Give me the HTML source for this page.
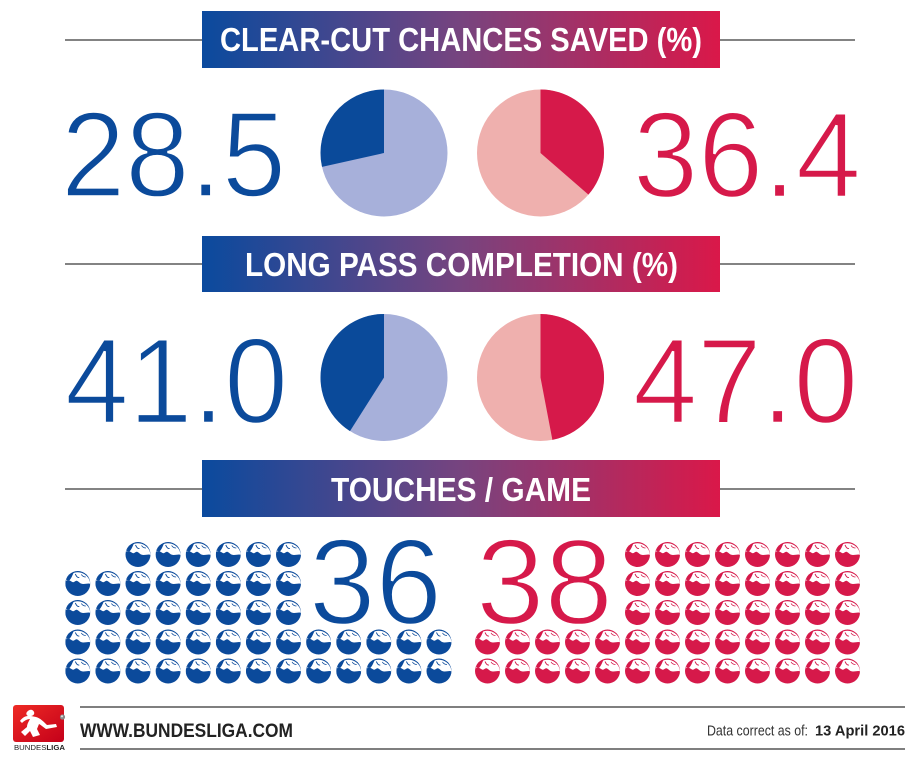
<!DOCTYPE html>
<html>
<head>
<meta charset="utf-8">
<style>
html,body{margin:0;padding:0;background:#fff;}
svg{display:block;}
</style>
</head>
<body>
<svg width="920" height="765" viewBox="0 0 920 765" xmlns="http://www.w3.org/2000/svg">
<defs>
  <linearGradient id="bg" x1="0" y1="0" x2="1" y2="0">
    <stop offset="0" stop-color="#0a4a9e"/>
    <stop offset="0.5" stop-color="#77447f"/>
    <stop offset="1" stop-color="#da1849"/>
  </linearGradient>
  <linearGradient id="lg" x1="0" y1="0" x2="1" y2="1">
    <stop offset="0" stop-color="#ee2a24"/>
    <stop offset="1" stop-color="#c4001a"/>
  </linearGradient>
  <symbol id="ball" viewBox="0 0 25 25">
    <circle cx="12.5" cy="12.5" r="12.5" fill="currentColor"/>
    <path d="M0.6,10 C3,8 5,10 7,11 C9,12 10,9 12,10 C14,11 15,13 18,13 C21,13 23,12 24.99,12.8 A12.5,12.5 0 0 0 0.6,10 Z" fill="#fff"/>
    <path d="M1.2,9 C2,5 5,2 8.5,1.5 C7,4 6.5,7 4,9.5 Z" fill="currentColor"/>
    <path d="M10,3 C11,5 12,7 14,6.5" stroke="currentColor" stroke-width="0.9" fill="none"/>
    <path d="M16,3.5 C17,5 18,6 20.5,6" stroke="currentColor" stroke-width="0.7" fill="none"/>
  </symbol>
</defs>

<g stroke="#5a5a5a" stroke-width="1.5">
  <line x1="65" y1="40" x2="855" y2="40"/>
  <line x1="65" y1="264" x2="855" y2="264"/>
  <line x1="65" y1="489" x2="855" y2="489"/>
</g>

<rect x="202" y="11" width="518" height="57" fill="url(#bg)"/>
<rect x="202" y="236" width="518" height="56" fill="url(#bg)"/>
<rect x="202" y="460" width="518" height="57" fill="url(#bg)"/>

<g font-family="Liberation Sans, sans-serif" font-weight="bold" font-size="33" fill="#fff">
  <text x="220" y="51" textLength="482" lengthAdjust="spacingAndGlyphs">CLEAR-CUT CHANCES SAVED (%)</text>
  <text x="245" y="276" textLength="433" lengthAdjust="spacingAndGlyphs">LONG PASS COMPLETION (%)</text>
  <text x="331" y="501" textLength="260" lengthAdjust="spacingAndGlyphs">TOUCHES / GAME</text>
</g>

<g font-family="Liberation Sans, sans-serif" font-size="122" stroke="#fff" stroke-width="2.4">
  <text x="61" y="196.5" fill="#0b4a9b" textLength="225" lengthAdjust="spacingAndGlyphs">28.5</text>
  <text x="633" y="197" fill="#d6194a" textLength="228" lengthAdjust="spacingAndGlyphs">36.4</text>
  <text x="65" y="423" fill="#0b4a9b" textLength="223" lengthAdjust="spacingAndGlyphs">41.0</text>
  <text x="633" y="423" fill="#d6194a" textLength="225" lengthAdjust="spacingAndGlyphs">47.0</text>
  <text x="309" y="624" fill="#0b4a9b" textLength="133" lengthAdjust="spacingAndGlyphs">36</text>
  <text x="476" y="624" fill="#d6194a" textLength="137" lengthAdjust="spacingAndGlyphs">38</text>
</g>

<circle cx="384" cy="153" r="63.5" fill="#a7b0da"/>
<path d="M384,153 L384,89.5 A63.5,63.5 0 0 0 322.03,166.85 Z" fill="#0a4a9a"/>
<circle cx="540.5" cy="153" r="63.5" fill="#efb0ae"/>
<path d="M540.5,153 L540.5,89.5 A63.5,63.5 0 0 1 588.42,194.66 Z" fill="#d6194a"/>

<circle cx="384" cy="377.5" r="63.5" fill="#a7b0da"/>
<path d="M384,377.5 L384,314 A63.5,63.5 0 0 0 349.98,431.11 Z" fill="#0a4a9a"/>
<circle cx="540.5" cy="377.5" r="63.5" fill="#efb0ae"/>
<path d="M540.5,377.5 L540.5,314 A63.5,63.5 0 0 1 552.4,439.88 Z" fill="#d6194a"/>

<g style="color:#0b4a9b">
  <use href="#ball" x="125.5" y="542" width="25" height="25"/>
  <use href="#ball" x="155.6" y="542" width="25" height="25"/>
  <use href="#ball" x="185.7" y="542" width="25" height="25"/>
  <use href="#ball" x="215.8" y="542" width="25" height="25"/>
  <use href="#ball" x="245.9" y="542" width="25" height="25"/>
  <use href="#ball" x="276" y="542" width="25" height="25"/>
  <use href="#ball" x="65.3" y="571" width="25" height="25"/>
  <use href="#ball" x="95.4" y="571" width="25" height="25"/>
  <use href="#ball" x="125.5" y="571" width="25" height="25"/>
  <use href="#ball" x="155.6" y="571" width="25" height="25"/>
  <use href="#ball" x="185.7" y="571" width="25" height="25"/>
  <use href="#ball" x="215.8" y="571" width="25" height="25"/>
  <use href="#ball" x="245.9" y="571" width="25" height="25"/>
  <use href="#ball" x="276" y="571" width="25" height="25"/>
  <use href="#ball" x="65.3" y="600" width="25" height="25"/>
  <use href="#ball" x="95.4" y="600" width="25" height="25"/>
  <use href="#ball" x="125.5" y="600" width="25" height="25"/>
  <use href="#ball" x="155.6" y="600" width="25" height="25"/>
  <use href="#ball" x="185.7" y="600" width="25" height="25"/>
  <use href="#ball" x="215.8" y="600" width="25" height="25"/>
  <use href="#ball" x="245.9" y="600" width="25" height="25"/>
  <use href="#ball" x="276" y="600" width="25" height="25"/>
  <use href="#ball" x="65.3" y="629.5" width="25" height="25"/>
  <use href="#ball" x="95.4" y="629.5" width="25" height="25"/>
  <use href="#ball" x="125.5" y="629.5" width="25" height="25"/>
  <use href="#ball" x="155.6" y="629.5" width="25" height="25"/>
  <use href="#ball" x="185.7" y="629.5" width="25" height="25"/>
  <use href="#ball" x="215.8" y="629.5" width="25" height="25"/>
  <use href="#ball" x="245.9" y="629.5" width="25" height="25"/>
  <use href="#ball" x="276" y="629.5" width="25" height="25"/>
  <use href="#ball" x="306.1" y="629.5" width="25" height="25"/>
  <use href="#ball" x="336.2" y="629.5" width="25" height="25"/>
  <use href="#ball" x="366.3" y="629.5" width="25" height="25"/>
  <use href="#ball" x="396.4" y="629.5" width="25" height="25"/>
  <use href="#ball" x="426.5" y="629.5" width="25" height="25"/>
  <use href="#ball" x="65.3" y="658.5" width="25" height="25"/>
  <use href="#ball" x="95.4" y="658.5" width="25" height="25"/>
  <use href="#ball" x="125.5" y="658.5" width="25" height="25"/>
  <use href="#ball" x="155.6" y="658.5" width="25" height="25"/>
  <use href="#ball" x="185.7" y="658.5" width="25" height="25"/>
  <use href="#ball" x="215.8" y="658.5" width="25" height="25"/>
  <use href="#ball" x="245.9" y="658.5" width="25" height="25"/>
  <use href="#ball" x="276" y="658.5" width="25" height="25"/>
  <use href="#ball" x="306.1" y="658.5" width="25" height="25"/>
  <use href="#ball" x="336.2" y="658.5" width="25" height="25"/>
  <use href="#ball" x="366.3" y="658.5" width="25" height="25"/>
  <use href="#ball" x="396.4" y="658.5" width="25" height="25"/>
  <use href="#ball" x="426.5" y="658.5" width="25" height="25"/>
</g>

<g style="color:#d6194a">
  <use href="#ball" x="625" y="542" width="25" height="25"/>
  <use href="#ball" x="655" y="542" width="25" height="25"/>
  <use href="#ball" x="685" y="542" width="25" height="25"/>
  <use href="#ball" x="715" y="542" width="25" height="25"/>
  <use href="#ball" x="745" y="542" width="25" height="25"/>
  <use href="#ball" x="775" y="542" width="25" height="25"/>
  <use href="#ball" x="805" y="542" width="25" height="25"/>
  <use href="#ball" x="835" y="542" width="25" height="25"/>
  <use href="#ball" x="625" y="571" width="25" height="25"/>
  <use href="#ball" x="655" y="571" width="25" height="25"/>
  <use href="#ball" x="685" y="571" width="25" height="25"/>
  <use href="#ball" x="715" y="571" width="25" height="25"/>
  <use href="#ball" x="745" y="571" width="25" height="25"/>
  <use href="#ball" x="775" y="571" width="25" height="25"/>
  <use href="#ball" x="805" y="571" width="25" height="25"/>
  <use href="#ball" x="835" y="571" width="25" height="25"/>
  <use href="#ball" x="625" y="600" width="25" height="25"/>
  <use href="#ball" x="655" y="600" width="25" height="25"/>
  <use href="#ball" x="685" y="600" width="25" height="25"/>
  <use href="#ball" x="715" y="600" width="25" height="25"/>
  <use href="#ball" x="745" y="600" width="25" height="25"/>
  <use href="#ball" x="775" y="600" width="25" height="25"/>
  <use href="#ball" x="805" y="600" width="25" height="25"/>
  <use href="#ball" x="835" y="600" width="25" height="25"/>
  <use href="#ball" x="475" y="629.5" width="25" height="25"/>
  <use href="#ball" x="505" y="629.5" width="25" height="25"/>
  <use href="#ball" x="535" y="629.5" width="25" height="25"/>
  <use href="#ball" x="565" y="629.5" width="25" height="25"/>
  <use href="#ball" x="595" y="629.5" width="25" height="25"/>
  <use href="#ball" x="625" y="629.5" width="25" height="25"/>
  <use href="#ball" x="655" y="629.5" width="25" height="25"/>
  <use href="#ball" x="685" y="629.5" width="25" height="25"/>
  <use href="#ball" x="715" y="629.5" width="25" height="25"/>
  <use href="#ball" x="745" y="629.5" width="25" height="25"/>
  <use href="#ball" x="775" y="629.5" width="25" height="25"/>
  <use href="#ball" x="805" y="629.5" width="25" height="25"/>
  <use href="#ball" x="835" y="629.5" width="25" height="25"/>
  <use href="#ball" x="475" y="658.5" width="25" height="25"/>
  <use href="#ball" x="505" y="658.5" width="25" height="25"/>
  <use href="#ball" x="535" y="658.5" width="25" height="25"/>
  <use href="#ball" x="565" y="658.5" width="25" height="25"/>
  <use href="#ball" x="595" y="658.5" width="25" height="25"/>
  <use href="#ball" x="625" y="658.5" width="25" height="25"/>
  <use href="#ball" x="655" y="658.5" width="25" height="25"/>
  <use href="#ball" x="685" y="658.5" width="25" height="25"/>
  <use href="#ball" x="715" y="658.5" width="25" height="25"/>
  <use href="#ball" x="745" y="658.5" width="25" height="25"/>
  <use href="#ball" x="775" y="658.5" width="25" height="25"/>
  <use href="#ball" x="805" y="658.5" width="25" height="25"/>
  <use href="#ball" x="835" y="658.5" width="25" height="25"/>
</g>

<g stroke="#333" stroke-width="1.3">
  <line x1="80" y1="707" x2="905" y2="707"/>
  <line x1="80" y1="749" x2="905" y2="749"/>
</g>

<rect x="13" y="705" width="51" height="37" rx="3" fill="url(#lg)"/>
<path d="M27,712 C29,709 33,709 34,712 C35,714 33,716 31,716 L36,717 C40,718 44,722 47,725 L56,724 L57,727 L46,729 C43,727 41,725 39,724 L37,729 L40,735 L33,737 L30,731 L25,736 L21,732 L27,727 C27,724 29,721 30,719 C27,719 24,721 22,723 L20,721 C22,718 25,716 28,716 C26,715 26,713 27,712 Z" fill="#fff"/>
<circle cx="62.5" cy="717" r="2.6" fill="#888"/>
<circle cx="62" cy="716.3" r="1.1" fill="#ddd"/>
<text x="14" y="750" font-family="Liberation Sans, sans-serif" font-size="7.5" fill="#222" textLength="51" lengthAdjust="spacingAndGlyphs">BUNDES<tspan font-weight="bold">LIGA</tspan></text>

<text x="80" y="737" font-family="Liberation Sans, sans-serif" font-weight="bold" font-size="19.5" fill="#222" textLength="213" lengthAdjust="spacingAndGlyphs">WWW.BUNDESLIGA.COM</text>

<text x="707" y="735.5" font-family="Liberation Sans, sans-serif" font-size="14.5" fill="#333" textLength="101" lengthAdjust="spacingAndGlyphs">Data correct as of:</text>
<text x="815" y="735.5" font-family="Liberation Sans, sans-serif" font-weight="bold" font-size="14.5" fill="#222" textLength="90" lengthAdjust="spacingAndGlyphs">13 April 2016</text>
</svg>
</body>
</html>
